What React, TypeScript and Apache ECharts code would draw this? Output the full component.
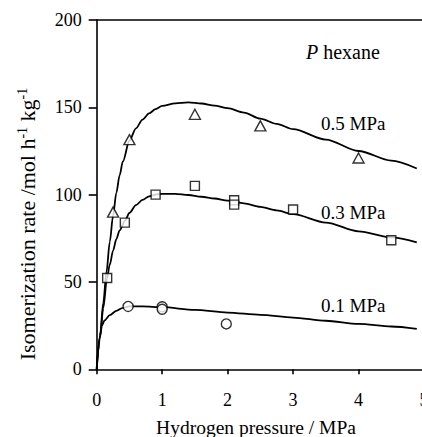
import React, { useEffect, useRef } from "react";
import * as echarts from "echarts";

// Measured points
const tri05: number[][] = [[0.25, 90], [0.5, 131.5], [1.5, 146], [2.5, 139.4], [4.0, 121]];
const sq03: number[][] = [[0.16, 52.3], [0.43, 84], [0.9, 100], [1.5, 105], [2.1, 96.8], [2.1, 94.3], [3.0, 91.5], [4.5, 73.9]];
const circ01: number[][] = [[0.48, 36], [1.0, 35.8], [1.0, 34.4], [1.98, 26]];

// Fitted curves
const curve05: number[][] = [[0, 0], [0.05, 19], [0.1, 38], [0.15, 56], [0.2, 73], [0.25, 88], [0.3, 101], [0.35, 111], [0.4, 119], [0.5, 131], [0.6, 138], [0.7, 143], [0.8, 146.5], [0.9, 149], [1.0, 150.8], [1.2, 152.3], [1.4, 152.8], [1.6, 152.2], [1.8, 151], [2.0, 149.5], [2.25, 147], [2.5, 143.5], [2.75, 140.5], [3.0, 137.5], [3.5, 131.5], [4.0, 125], [4.5, 119.5], [4.89, 115]];
const curve03: number[][] = [[0, 0], [0.05, 18], [0.1, 35], [0.157, 52], [0.2, 60], [0.25, 68], [0.3, 74.5], [0.35, 79.5], [0.43, 85], [0.5, 89.5], [0.6, 94], [0.7, 97], [0.8, 99], [0.9, 100], [1.0, 100.5], [1.2, 100.5], [1.4, 99.8], [1.6, 98.8], [1.8, 97.8], [2.0, 96.6], [2.25, 95], [2.5, 93], [2.75, 91], [3.0, 88.8], [3.5, 84], [4.0, 79], [4.5, 75.5], [4.89, 72.7]];
const curve01: number[][] = [[0, 0.5], [0.02, 10], [0.05, 19], [0.08, 25], [0.12, 28], [0.2, 31], [0.3, 33.5], [0.4, 35.2], [0.5, 36], [0.7, 36], [1.0, 35.6], [1.5, 34], [2.0, 32.5], [2.5, 31.2], [3.0, 29.6], [3.5, 27.8], [4.0, 26], [4.5, 24.5], [4.89, 23.1]];

const xTicks = [0, 1, 2, 3, 4, 5];
const yTicks = [0, 50, 100, 150, 200];
const curveLabels = ["0.5 MPa", "0.3 MPa", "0.1 MPa"];

const FONT = "'Liberation Serif', 'Times New Roman', 'DejaVu Serif', serif";

export default function App() {
  const ref = useRef<HTMLDivElement>(null);
  useEffect(() => {
    if (!ref.current) return;
    const chart = echarts.init(ref.current, undefined, { renderer: "svg" });
    const lineStyle = { color: "#000", width: 1.8 };
    const markerStyle = { color: "#fff", borderColor: "#000", borderWidth: 1.4 };
    const txt = (text: string, x: number, y: number) => ({
      type: "text",
      x,
      y,
      style: { text, font: `19px ${FONT}`, fill: "#000", verticalAlign: "middle" },
    });
    chart.setOption({
      animation: false,
      backgroundColor: "#fff",
      textStyle: { fontFamily: FONT },
      grid: { left: 96.7, top: 20, right: -2, bottom: 67.7, outerBoundsMode: "none", containLabel: false },
      xAxis: [
        {
          type: "value",
          min: xTicks[0],
          max: xTicks[xTicks.length - 1],
          interval: 1,
          axisLine: { show: true, lineStyle: { color: "#000", width: 1.6 } },
          axisTick: { show: true, inside: false, length: 5, lineStyle: { color: "#000", width: 1.6 } },
          axisLabel: { color: "#000", fontFamily: FONT, fontSize: 18, margin: 22 },
          splitLine: { show: false },
        },
        {
          type: "value",
          position: "top",
          min: 0,
          max: 5,
          axisLine: { show: true, onZero: false, lineStyle: { color: "#000", width: 1.6 } },
          axisTick: { show: false },
          axisLabel: { show: false },
          splitLine: { show: false },
        },
      ],
      yAxis: {
        type: "value",
        min: yTicks[0],
        max: yTicks[yTicks.length - 1],
        interval: 50,
        axisLine: { show: true, lineStyle: { color: "#000", width: 1.6 } },
        axisTick: { show: true, inside: false, length: 8, lineStyle: { color: "#000", width: 1.6 } },
        axisLabel: { color: "#000", fontFamily: FONT, fontSize: 18, margin: 15 },
        splitLine: { show: false },
      },
      graphic: [
        {
          type: "text",
          x: 27,
          y: 224,
          rotation: Math.PI / 2,
          style: {
            text: "{n|Isomerization rate /mol h}{s|-1}{n| kg}{s|-1}",
            align: "center",
            verticalAlign: "middle",
            fill: "#000",
            font: `22px ${FONT}`,
            rich: {
              n: { fontFamily: FONT, fontSize: 22, lineHeight: 24, fill: "#000" },
              s: { fontFamily: FONT, fontSize: 14, lineHeight: 24, verticalAlign: "top", fill: "#000" },
            },
          },
        },
        {
          type: "text",
          x: 256,
          y: 427,
          style: { text: "Hydrogen pressure / MPa", font: `19.5px ${FONT}`, fill: "#000", align: "center", verticalAlign: "middle" },
        },
        {
          type: "text",
          x: 306,
          y: 52,
          style: {
            text: "{i|P}{n| hexane}",
            verticalAlign: "middle",
            font: `20px ${FONT}`,
            rich: {
              i: { fontFamily: FONT, fontSize: 20, fontStyle: "italic", fill: "#000" },
              n: { fontFamily: FONT, fontSize: 20, fill: "#000" },
            },
          },
        },
        txt(curveLabels[0], 321, 123),
        txt(curveLabels[1], 321, 212),
        txt(curveLabels[2], 321, 305),
      ],
      series: [
        { type: "line", data: curve05, smooth: 0.3, smoothMonotone: "x", showSymbol: false, lineStyle, z: 2 },
        { type: "line", data: curve03, smooth: 0.3, smoothMonotone: "x", showSymbol: false, lineStyle, z: 2 },
        { type: "line", data: curve01, smooth: 0.3, smoothMonotone: "x", showSymbol: false, lineStyle, z: 2 },
        { type: "scatter", data: tri05, symbol: "triangle", symbolSize: [11, 10], itemStyle: markerStyle, z: 3 },
        { type: "scatter", data: sq03, symbol: "rect", symbolSize: 9, itemStyle: markerStyle, z: 3 },
        { type: "scatter", data: circ01, symbol: "circle", symbolSize: 10, itemStyle: markerStyle, z: 3 },
      ],
    });
    return () => chart.dispose();
  }, []);
  return <div ref={ref} style={{ width: 422, height: 437, position: "absolute", left: 0, top: 0 }} />;
}
